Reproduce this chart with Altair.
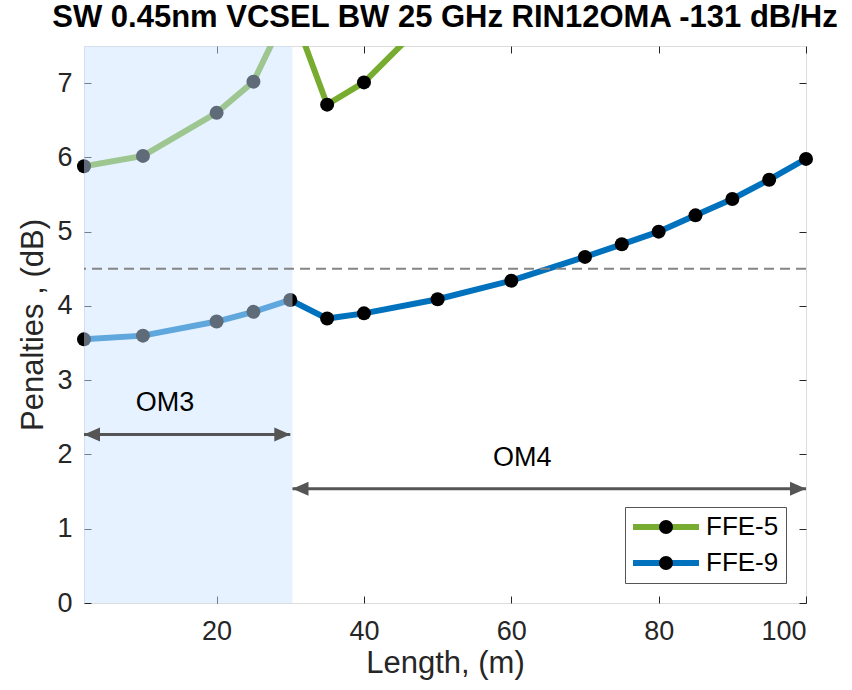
import altair as alt
import pandas as pd

# ---- data -------------------------------------------------------------
length_m = [2, 10, 20, 25, 30, 35, 40, 50, 60, 70, 75, 80, 85, 90, 95, 100]
ffe9_db = [3.55, 3.60, 3.79, 3.92, 4.08, 3.83, 3.90, 4.09, 4.34, 4.66, 4.83,
           5.00, 5.22, 5.44, 5.70, 5.98]

ffe5_length_m = [2, 10, 20, 25, 30, 35, 40, 50]
ffe5_db = [5.88, 6.02, 6.60, 7.02, 8.05, 6.71, 7.01, 8.00]

series_names = ["FFE-5", "FFE-9"]
series_colors = ["#77AC30", "#0072BD"]

threshold_db = [4.5]

# OM3 reach (shaded) and the two fibre-reach arrows
om3_from, om3_to = [2], [30.3]
fiber_names = ["OM3", "OM4"]
arrow_start = [2, 30.3]
arrow_end = [30, 100]
arrow_y = [2.27, 1.54]
fiber_label_x = [13, 61.5]
fiber_label_y = [2.69, 1.95]

x_ticks = [20, 40, 60, 80, 100]
y_ticks = [0, 1, 2, 3, 4, 5, 6, 7]
x_domain = [2, 100]
y_domain = [0, 7.5]

# ---- tables -----------------------------------------------------------
curves = pd.concat([
    pd.DataFrame({"length": ffe5_length_m, "db": ffe5_db, "series": "FFE-5"}),
    pd.DataFrame({"length": length_m, "db": ffe9_db, "series": "FFE-9"}),
], ignore_index=True)
curves["pt"] = curves["series"]

shade = pd.DataFrame({"x0": om3_from, "x1": om3_to})
arrows = pd.DataFrame({"fiber": fiber_names, "start": arrow_start, "end": arrow_end,
                       "y": arrow_y, "lx": fiber_label_x, "ly": fiber_label_y})
thr = pd.DataFrame({"db": threshold_db})

FONT = "Liberation Sans"
INK = "#262626"
TICK = 7

xs = alt.Scale(domain=x_domain, nice=False, zero=False)
ys = alt.Scale(domain=y_domain, nice=False, zero=False)

bottom_axis = alt.Axis(orient="bottom", values=x_ticks, offset=-TICK, tickSize=TICK,
                       domain=False, grid=False, labelFontSize=27, labelFont=FONT,
                       labelColor=INK, tickColor=INK, labelPadding=15,
                       title="Length, (m)", titleFont=FONT, titleFontSize=31,
                       titleFontWeight="normal", titleColor=INK, titlePadding=4)
left_axis = alt.Axis(orient="left", values=y_ticks, offset=-TICK, tickSize=TICK,
                     domain=False, grid=False, labelFontSize=27, labelFont=FONT,
                     labelColor=INK, tickColor=INK, labelPadding=12,
                     title="Penalties , (dB)", titleFont=FONT, titleFontSize=31,
                     titleFontWeight="normal", titleColor=INK, titlePadding=7)
top_axis = alt.Axis(orient="top", values=x_ticks, offset=-TICK, tickSize=TICK,
                    domain=False, grid=False, labels=False, tickColor=INK, title=None)
right_axis = alt.Axis(orient="right", values=y_ticks, offset=-TICK, tickSize=TICK,
                      domain=False, grid=False, labels=False, tickColor=INK, title=None)

base = alt.Chart(curves)

lines = base.mark_line(strokeWidth=6, clip=True).encode(
    x=alt.X("length:Q", scale=xs, axis=bottom_axis),
    y=alt.Y("db:Q", scale=ys, axis=left_axis),
    color=alt.Color("series:N",
                    scale=alt.Scale(domain=series_names, range=series_colors),
                    legend=alt.Legend(orient="none", legendX=541, legendY=461,
                                      title=None, symbolType="M-4,0H4",
                                      symbolSize=272, symbolStrokeWidth=6,
                                      symbolOffset=21, labelOffset=27,
                                      labelFontSize=26, labelFont=FONT,
                                      labelColor="#000000", padding=7,
                                      rowPadding=10, strokeColor="#555555")),
    detail="series:N",
    order="length:Q",
)

dots = base.mark_point(filled=True, size=196, opacity=1, color="#000000",
                       clip=False).encode(
    x=alt.X("length:Q", scale=xs, axis=None),
    y=alt.Y("db:Q", scale=ys, axis=None),
    shape=alt.Shape("pt:N", scale=alt.Scale(range=["circle", "circle"]),
                    legend=alt.Legend(orient="none", legendX=541, legendY=461,
                                      title=None, symbolSize=196,
                                      symbolStrokeWidth=0, symbolOffset=21,
                                      symbolFillColor="#000000",
                                      labelOffset=27, labelFontSize=26,
                                      labelFont=FONT, labelOpacity=0,
                                      padding=7, rowPadding=10)),
).transform_filter(f"datum.db <= {y_domain[1]}")

om3_patch = alt.Chart(shade).mark_rect(color="#CAE4FF", opacity=0.47).encode(
    x=alt.X("x0:Q", scale=xs, axis=None),
    x2="x1:Q",
    y=alt.Y("datum_y0:Q", scale=ys, axis=None),
    y2="datum_y1:Q",
).transform_calculate(datum_y0=str(y_domain[0]), datum_y1=str(y_domain[1]))

threshold = alt.Chart(thr).mark_rule(color="#858585", strokeWidth=2,
                                     strokeDash=[10, 6]).encode(
    y=alt.Y("db:Q", scale=ys, axis=None),
)

shafts = alt.Chart(arrows).mark_rule(color="#555555", strokeWidth=3).encode(
    x=alt.X("start:Q", scale=xs, axis=top_axis),
    x2="end:Q",
    y=alt.Y("y:Q", scale=ys, axis=right_axis),
)

heads_left = alt.Chart(arrows).mark_point(
    shape="M0,0L4,-1.75L4,1.75Z", size=64, filled=True, opacity=1,
    color="#555555", clip=False).encode(
    x=alt.X("start:Q", scale=xs, axis=None),
    y=alt.Y("y:Q", scale=ys, axis=None),
)
heads_right = alt.Chart(arrows).mark_point(
    shape="M0,0L-4,-1.75L-4,1.75Z", size=64, filled=True, opacity=1,
    color="#555555", clip=False).encode(
    x=alt.X("end:Q", scale=xs, axis=None),
    y=alt.Y("y:Q", scale=ys, axis=None),
)

fiber_text = alt.Chart(arrows).mark_text(font=FONT, fontSize=27, color="#000000",
                                         align="center", baseline="middle").encode(
    x=alt.X("lx:Q", scale=xs, axis=None),
    y=alt.Y("ly:Q", scale=ys, axis=None),
    text="fiber:N",
)

chart = alt.layer(
    lines, dots, om3_patch, threshold, shafts, heads_left, heads_right, fiber_text
).properties(
    width=722,
    height=557,
    autosize=alt.AutoSizeParams(type="none"),
    padding={"left": 84, "top": 46, "right": 46, "bottom": 87},
    title=alt.Title("SW 0.45nm VCSEL BW 25 GHz RIN12OMA -131 dB/Hz",
                    font=FONT, fontSize=31, fontWeight="bold", color="#000000",
                    anchor="middle", offset=12),
).configure_view(
    stroke=INK, strokeWidth=1
).configure(background="white")

chart.save("out.html", embed_options={"renderer": "svg", "actions": False})
